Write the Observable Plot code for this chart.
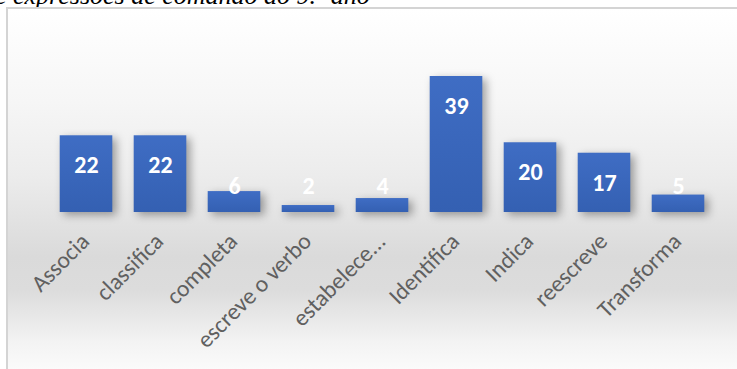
<!DOCTYPE html>
<html>
<head>
<meta charset="utf-8">
<script src="https://cdn.jsdelivr.net/npm/d3@7"></script>
<script src="https://cdn.jsdelivr.net/npm/@observablehq/plot@0.6"></script>
<style>
  html, body { margin: 0; padding: 0; background: #ffffff; width: 737px; height: 369px; overflow: hidden; position: relative; }
  #title {
    position: absolute; left: -18px; top: -17px;
    font-family: "Liberation Serif", "Times New Roman", serif;
    font-style: italic; font-size: 26px; line-height: 26px; color: #000;
    white-space: nowrap;
  }
  #frame {
    position: absolute; left: 6px; top: 7px; width: 760px; height: 370px;
    border-left: 2px solid #d4d4d4; border-top: 2px solid #d4d4d4;
    background: linear-gradient(to bottom, #ffffff 0%, #f6f6f6 25%, #ececec 45%, #dadada 67%, #dcdcdc 76%, #f3f3f3 90%, #fdfdfd 100%);
  }
  #chart { position: absolute; left: 0; top: 0; }
  #chart svg { background: transparent !important; }
</style>
</head>
<body>
<div id="title">de expressões de comando do 9.º ano</div>
<div id="frame"></div>
<div id="chart"></div>
<script>
const categories = ["Associa", "classifica", "completa", "escreve o verbo", "estabelece...", "Identifica", "Indica", "reescreve", "Transforma"];
const values = [22, 22, 6, 2, 4, 39, 20, 17, 5];

const data = categories.map((c, i) => ({category: c, value: values[i]}));

const chart = Plot.plot({
  width: 737,
  height: 369,
  marginLeft: 47.3,
  marginRight: 20.1,
  marginTop: 76,
  marginBottom: 157,
  style: {background: "transparent", overflow: "visible"},
  x: {domain: categories, padding: 0, label: null},
  y: {domain: [0, 39], nice: false, axis: null},
  marks: [
    Plot.barY(data, {x: "category", y: "value", fill: "url(#barGrad)", insetLeft: 10.7, insetRight: 10.7}),
    Plot.text(data, {
      x: "category",
      y: d => Math.max(d.value, 16.06),
      dy: 30,
      text: d => String(d.value),
      fill: "white",
      fontSize: 24,
      fontWeight: "bold",
      fontFamily: "Calibri, Carlito, Lato, sans-serif"
    }),
    Plot.axisX({
      tickRotate: -45,
      tickSize: 0,
      tickPadding: 0,
      dy: 25,
      dx: -1,
      fontSize: 23.5,
      fill: "#606060",
      fontFamily: "Calibri, Carlito, Lato, sans-serif",
      label: null
    })
  ]
});

const svg = d3.select(chart);
const defs = svg.insert("defs", ":first-child");
const g = defs.append("linearGradient").attr("id", "barGrad").attr("x1", 0).attr("y1", 0).attr("x2", 0).attr("y2", 1);
g.append("stop").attr("offset", "0%").attr("stop-color", "#3f6dc4");
g.append("stop").attr("offset", "100%").attr("stop-color", "#3460b2");
svg.selectAll('g[aria-label="bar"]').style("filter", "drop-shadow(4px 3px 4px rgba(0,0,0,0.35))");

document.getElementById("chart").appendChild(chart);
</script>
</body>
</html>
